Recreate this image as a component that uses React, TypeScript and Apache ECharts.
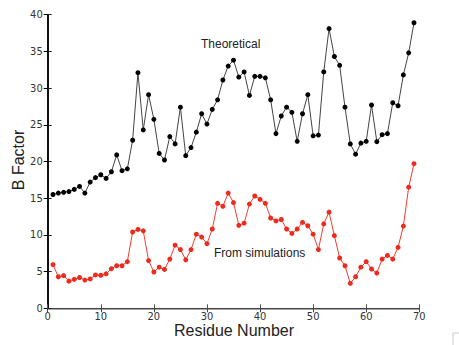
import React, { useEffect, useRef } from "react";
import * as echarts from "echarts";

const residues: number[] = Array.from({ length: 69 }, (_, i) => i + 1);

const theoretical: number[] = [
  15.5, 15.7, 15.8, 15.9, 16.2, 16.6, 15.7, 17.2, 17.8, 18.2,
  17.7, 18.6, 20.9, 18.75, 19.0, 22.9, 32.1, 24.3, 29.1, 25.75,
  21.1, 20.2, 23.4, 22.4, 27.4, 20.8, 21.9, 24.0, 26.5, 25.1,
  27.1, 28.4, 31.1, 33.0, 33.8, 31.5, 32.2, 29.0, 31.6, 31.6,
  31.4, 28.4, 23.8, 26.2, 27.4, 26.7, 22.75, 26.5, 29.1, 23.5,
  23.6, 32.2, 38.1, 34.3, 33.1, 27.4, 22.4, 21.0, 22.5, 22.75,
  27.7, 22.7, 23.65, 23.8, 28.0, 27.6, 31.8, 34.8, 38.9,
];

const simulations: number[] = [
  5.95, 4.3, 4.45, 3.7, 3.95, 4.2, 3.85, 4.0, 4.55, 4.5,
  4.7, 5.4, 5.8, 5.8, 6.35, 10.4, 10.75, 10.55, 6.5, 4.95,
  5.6, 5.3, 6.7, 8.6, 8.0, 6.6, 8.0, 10.1, 9.7, 8.8,
  10.8, 14.3, 13.9, 15.7, 14.4, 11.3, 11.6, 14.2, 15.3, 14.85,
  14.3, 12.3, 11.9, 12.1, 10.8, 10.2, 10.8, 11.7, 11.25, 10.1,
  8.0, 11.5, 13.1, 9.9, 6.85, 5.8, 3.4, 4.3, 5.6, 6.35,
  5.35, 4.8, 6.7, 7.2, 6.7, 8.3, 11.2, 16.5, 19.7,
];

const xTicks: number[] = [0, 10, 20, 30, 40, 50, 60, 70];
const yTicks: number[] = [0, 5, 10, 15, 20, 25, 30, 35, 40];

export default function App() {
  const ref = useRef<HTMLDivElement>(null);
  useEffect(() => {
    if (!ref.current) return;
    const chart = echarts.init(ref.current, undefined, { renderer: "svg" });
    const tickFont = {
      fontFamily: "Liberation Sans Narrow, DejaVu Sans Condensed, Arial, sans-serif",
      fontSize: 11,
      lineHeight: 10,
      color: "#333",
    };
    chart.setOption({
      animation: false,
      backgroundColor: "#fff",
      grid: { left: 47.7, right: 39.7, top: 14.7, bottom: 36.7, containLabel: false, outerBoundsMode: "none" },
      xAxis: [
        {
          type: "value",
          min: xTicks[0],
          max: xTicks[xTicks.length - 1],
          interval: 10,
          position: "bottom",
          axisLine: { show: true, lineStyle: { color: "#888", width: 1.5 } },
          axisTick: { show: true, inside: true, length: 4, lineStyle: { color: "#555" } },
          axisLabel: { ...tickFont, margin: 3 },
          splitLine: { show: false },
        },
        {
          type: "value",
          min: 0,
          max: 70,
          interval: 10,
          position: "top",
          axisLine: { show: true, lineStyle: { color: "#444", width: 1 } },
          axisTick: { show: true, inside: true, length: 4, lineStyle: { color: "#444" } },
          axisLabel: { show: false },
          splitLine: { show: false },
        },
      ],
      yAxis: [
        {
          type: "value",
          min: yTicks[0],
          max: yTicks[yTicks.length - 1],
          interval: 5,
          position: "left",
          axisLine: { show: true, lineStyle: { color: "#000", width: 1.5 } },
          axisTick: { show: true, inside: true, length: 4, lineStyle: { color: "#222" } },
          axisLabel: { ...tickFont, margin: 5 },
          splitLine: { show: false },
        },
        {
          type: "value",
          min: 0,
          max: 40,
          interval: 5,
          position: "right",
          axisLine: { show: true, lineStyle: { color: "#000", width: 1.5 } },
          axisTick: { show: true, inside: true, length: 4, lineStyle: { color: "#000" } },
          axisLabel: { show: false },
          splitLine: { show: false },
        },
      ],
      series: [
        {
          name: "Theoretical",
          type: "line",
          data: residues.map((r, i) => [r, theoretical[i]]),
          symbol: "circle",
          symbolSize: 5,
          lineStyle: { color: "#444", width: 1 },
          itemStyle: { color: "#000" },
          z: 3,
        },
        {
          name: "From simulations",
          type: "line",
          data: residues.map((r, i) => [r, simulations[i]]),
          symbol: "circle",
          symbolSize: 5,
          lineStyle: { color: "#f04030", width: 1 },
          itemStyle: { color: "#ee2a1e" },
          z: 3,
        },
      ],
      graphic: [
        {
          type: "text",
          x: 18,
          y: 160,
          rotation: Math.PI / 2,
          style: {
            text: "B Factor",
            fontFamily: "Liberation Sans, Arial, sans-serif",
            fontSize: 16,
            fill: "#222",
            textAlign: "center",
            textVerticalAlign: "middle",
          },
        },
        {
          type: "text",
          x: 234,
          y: 330,
          style: {
            text: "Residue Number",
            fontFamily: "Liberation Sans, Arial, sans-serif",
            fontSize: 16,
            lineHeight: 15,
            fill: "#222",
            textAlign: "center",
            textVerticalAlign: "middle",
          },
        },
        {
          type: "text",
          left: 201,
          top: 38,
          style: { text: "Theoretical", fontFamily: "Liberation Sans, Arial, sans-serif", fontSize: 12, fill: "#222" },
        },
        {
          type: "text",
          left: 214,
          top: 247,
          style: { text: "From simulations", fontFamily: "Liberation Sans, Arial, sans-serif", fontSize: 12, fill: "#222" },
        },
        {
          type: "polyline",
          shape: { points: [[453, 345], [453, 333], [459, 333]] },
          style: { stroke: "#ccc", fill: "none", lineWidth: 1 },
        },
      ],
    });
    return () => chart.dispose();
  }, []);
  return <div ref={ref} style={{ width: 459, height: 345, position: "absolute", left: 0, top: 0 }} />;
}
